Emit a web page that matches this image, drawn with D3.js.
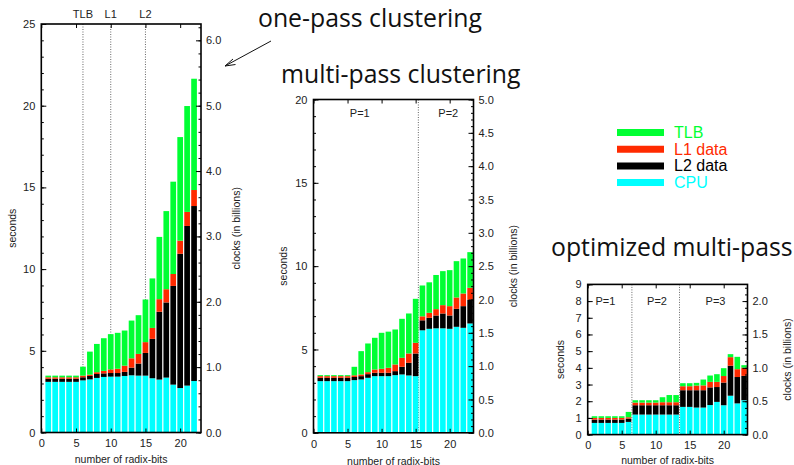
<!DOCTYPE html>
<html><head><meta charset="utf-8">
<script src="https://cdn.jsdelivr.net/npm/d3@7"></script>
<style>body{margin:0;background:#fff}svg{display:block}</style>
</head><body><svg id="c" width="794" height="465"></svg>
<script>
// ---------- DATA ----------
const seriesKeys = ["cpu", "l2", "l1", "tlb"];
const seriesNames = {tlb: "TLB", l1: "L1 data", l2: "L2 data", cpu: "CPU"};
const seriesColors = {cpu: "#00ffff", l2: "#000000", l1: "#ff2a00", tlb: "#00ff33"};
const legendOrder = ["tlb", "l1", "l2", "cpu"];

// one-pass clustering (seconds per component)
const bits1 = [1,2,3,4,5,6,7,8,9,10,11,12,13,14,15,16,17,18,19,20,21,22];
const cpu1 = [3.10,3.10,3.10,3.10,3.10,3.19,3.25,3.34,3.40,3.42,3.42,3.46,3.50,3.48,3.48,3.32,3.24,3.36,2.93,2.72,2.87,3.15];
const l2_1 = [0.19,0.19,0.19,0.19,0.19,0.19,0.21,0.24,0.22,0.22,0.22,0.25,0.47,0.74,1.39,2.41,4.15,4.60,6.04,8.22,9.77,10.71];
const l1_1 = [0.09,0.09,0.09,0.09,0.09,0.10,0.08,0.11,0.15,0.22,0.26,0.38,0.57,0.59,0.66,0.67,0.77,0.81,0.73,0.80,0.86,0.98];
const tlb1 = [0.10,0.10,0.10,0.10,0.10,0.55,1.41,1.73,2.00,2.16,2.20,2.15,2.31,2.37,2.61,3.03,3.81,4.78,5.65,6.34,6.48,6.81];

// multi-pass clustering
const bits2 = [1,2,3,4,5,6,7,8,9,10,11,12,13,14,15,16,17,18,19,20,21,22,23];
const cpu2 = [3.10,3.10,3.10,3.10,3.10,3.16,3.20,3.30,3.40,3.40,3.40,3.46,3.50,3.44,3.40,6.15,6.24,6.27,6.27,6.24,6.36,6.30,6.56];
const l2_2 = [0.20,0.20,0.20,0.20,0.20,0.19,0.20,0.22,0.20,0.20,0.20,0.24,0.46,0.76,1.36,0.60,0.66,0.77,0.89,0.80,1.08,1.30,1.42];
const l1_2 = [0.10,0.10,0.10,0.10,0.10,0.10,0.10,0.12,0.20,0.24,0.30,0.40,0.54,0.56,0.64,0.24,0.30,0.38,0.50,0.56,0.68,0.76,0.72];
const tlb2 = [0.06,0.06,0.06,0.06,0.06,0.51,1.40,1.72,1.90,2.16,2.17,2.10,2.34,2.40,2.64,1.85,1.83,2.05,2.04,2.16,2.18,2.10,2.14];

// optimized multi-pass
const bits3 = [1,2,3,4,5,6,7,8,9,10,11,12,13,14,15,16,17,18,19,20,21,22,23];
const cpu3 = [0.70,0.70,0.70,0.70,0.70,0.76,1.20,1.20,1.20,1.20,1.20,1.20,1.20,1.66,1.66,1.62,1.62,1.77,1.96,1.76,2.33,1.87,2.06];
const l2_3 = [0.20,0.20,0.20,0.20,0.20,0.20,0.56,0.56,0.56,0.56,0.56,0.56,0.56,1.00,1.00,1.04,1.04,1.06,0.89,1.36,1.80,1.58,1.46];
const l1_3 = [0.10,0.10,0.10,0.10,0.10,0.08,0.16,0.16,0.16,0.16,0.18,0.18,0.18,0.24,0.24,0.28,0.29,0.33,0.31,0.39,0.51,0.47,0.49];
const tlb3 = [0.10,0.10,0.10,0.10,0.10,0.32,0.14,0.14,0.14,0.14,0.30,0.43,0.43,0.18,0.18,0.16,0.35,0.38,0.46,0.47,0.18,0.74,0.15];

const xTicks = [0,5,10,15,20];
const yTicks1 = [0,5,10,15,20,25];
const y2Ticks1 = [0,1,2,3,4,5,6];
const yTicks2 = [0,5,10,15,20];
const y2Ticks2 = [0,0.5,1,1.5,2,2.5,3,3.5,4,4.5,5];
const yTicks3 = [0,1,2,3,4,5,6,7,8,9];
const y2Ticks3 = [0,0.5,1,1.5,2];

const markers1 = [{x: 6, label: "TLB"}, {x: 10, label: "L1"}, {x: 15, label: "L2"}];
const dividers2 = [15.4];
const passLabels2 = [{x: 6.8, label: "P=1"}, {x: 19.8, label: "P=2"}];
const dividers3 = [6.5, 13.5];
const passLabels3 = [{x: 2.6, label: "P=1"}, {x: 10.2, label: "P=2"}, {x: 18.8, label: "P=3"}];

const titles = ["one-pass clustering", "multi-pass clustering", "optimized multi-pass"];

// ---------- DRAW ----------
const svg = d3.select("#c");
const FONT = "'Liberation Sans', Arial, sans-serif";

function panel(cfg) {
  const g = svg.append("g");
  const x = d3.scaleLinear().domain([0, cfg.xMax]).range([cfg.left, cfg.right]);
  const y = d3.scaleLinear().domain([0, cfg.yMax]).range([cfg.bottom, cfg.top]);
  const y2 = d3.scaleLinear().domain([0, cfg.y2Max]).range([cfg.bottom, cfg.top]);
  const rows = cfg.bits.map((b, i) => ({bit: b, cpu: cfg.cpu[i], l2: cfg.l2[i], l1: cfg.l1[i], tlb: cfg.tlb[i]}));
  const stacked = d3.stack().keys(seriesKeys)(rows);
  const bw = (x(1) - x(0)) * 0.82;

  // dotted dividers
  g.selectAll("line.div").data(cfg.dividers).join("line")
    .attr("x1", d => x(d)).attr("x2", d => x(d))
    .attr("y1", cfg.top).attr("y2", cfg.bottom)
    .attr("stroke", "#666").attr("stroke-width", 1).attr("stroke-dasharray", "1,1.5");

  // bars
  g.selectAll("g.s").data(stacked).join("g")
    .attr("fill", d => seriesColors[d.key])
    .selectAll("rect").data(d => d).join("rect")
    .attr("x", d => x(d.data.bit) - bw / 2)
    .attr("width", bw)
    .attr("y", d => y(d[1]))
    .attr("height", d => Math.max(0, y(d[0]) - y(d[1])));

  // axes (ticks inward)
  const ax = (axis, tr) => {
    const a = g.append("g").attr("transform", tr).call(axis);
    a.select(".domain").remove();
    a.selectAll("text").attr("font-family", FONT).attr("font-size", 11).attr("fill", "#222");
    a.selectAll("line").attr("stroke", "#000").attr("stroke-width", 1);
    return a;
  };
  ax(d3.axisBottom(x).tickValues(xTicks).tickFormat(d3.format("d")).tickSize(-4).tickPadding(7), `translate(0,${cfg.bottom})`);
  ax(d3.axisTop(x).tickValues(xTicks).tickFormat("").tickSize(-4), `translate(0,${cfg.top})`);
  ax(d3.axisLeft(y).tickValues(cfg.yTicks).tickFormat(d3.format("d")).tickSize(-5).tickPadding(6), `translate(${cfg.left},0)`);
  ax(d3.axisLeft(y).tickValues(d3.range(0, cfg.yMax + 1e-9, cfg.yMinor)).tickFormat("").tickSize(-2.5), `translate(${cfg.left},0)`);
  ax(d3.axisRight(y2).tickValues(cfg.y2Ticks).tickFormat(d3.format(".1f")).tickSize(-5).tickPadding(5), `translate(${cfg.right},0)`);
  ax(d3.axisRight(y2).tickValues(d3.range(0, cfg.y2Max + 1e-9, cfg.y2Minor)).tickFormat("").tickSize(-2.5), `translate(${cfg.right},0)`);

  // frame
  g.append("rect").attr("x", cfg.left).attr("y", cfg.top)
    .attr("width", cfg.right - cfg.left).attr("height", cfg.bottom - cfg.top)
    .attr("fill", "none").attr("stroke", "#000").attr("stroke-width", 1.6);

  // inner labels
  g.selectAll("text.pl").data(cfg.innerLabels).join("text")
    .attr("x", d => x(d.x)).attr("y", cfg.innerY)
    .attr("text-anchor", "middle").attr("dominant-baseline", "central")
    .attr("font-family", FONT).attr("font-size", 11).attr("fill", "#222")
    .text(d => d.label);

  // axis titles
  const cx = (cfg.left + cfg.right) / 2, cy = (cfg.top + cfg.bottom) / 2;
  g.append("text").attr("x", cx).attr("y", cfg.xLabelY)
    .attr("text-anchor", "middle").attr("dominant-baseline", "central")
    .attr("font-family", FONT).attr("font-size", 10.5).attr("fill", "#222")
    .text("number of radix-bits");
  g.append("text").attr("transform", `translate(${cfg.yLabelX},${cy}) rotate(-90)`)
    .attr("text-anchor", "middle").attr("dominant-baseline", "central")
    .attr("font-family", FONT).attr("font-size", 10.5).attr("fill", "#222")
    .text("seconds");
  g.append("text").attr("transform", `translate(${cfg.y2LabelX},${cy}) rotate(-90)`)
    .attr("text-anchor", "middle").attr("dominant-baseline", "central")
    .attr("font-family", FONT).attr("font-size", 10.5).attr("fill", "#222")
    .text("clocks (in billions)");
  return {x, y};
}

// panel 1
const p1 = panel({bits: bits1, cpu: cpu1, l2: l2_1, l1: l1_1, tlb: tlb1,
  left: 41.3, right: 201, top: 24, bottom: 432.5, xMax: 23, yMax: 25, y2Max: 6.25,
  yTicks: yTicks1, yMinor: 1, y2Ticks: y2Ticks1, y2Minor: 0.2,
  dividers: markers1.map(d => d.x), innerLabels: [], innerY: 0,
  xLabelY: 459, yLabelX: 12, y2LabelX: 236});
// top markers for panel 1 (above frame)
svg.append("g").selectAll("text").data(markers1).join("text")
  .attr("x", d => p1.x(d.x)).attr("y", 13.5)
  .attr("text-anchor", "middle").attr("dominant-baseline", "central")
  .attr("font-family", FONT).attr("font-size", 11).attr("fill", "#222")
  .text(d => d.label);

// panel 2
panel({bits: bits2, cpu: cpu2, l2: l2_2, l1: l1_2, tlb: tlb2,
  left: 313.5, right: 473.5, top: 99.5, bottom: 432.8, xMax: 23.5, yMax: 20, y2Max: 5,
  yTicks: yTicks2, yMinor: 1, y2Ticks: y2Ticks2, y2Minor: 0.1,
  dividers: dividers2, innerLabels: passLabels2, innerY: 113,
  xLabelY: 460.5, yLabelX: 283, y2LabelX: 513});

// panel 3
panel({bits: bits3, cpu: cpu3, l2: l2_3, l1: l1_3, tlb: tlb3,
  left: 587.7, right: 747.5, top: 284.4, bottom: 434.6, xMax: 23.5, yMax: 9, y2Max: 2.25,
  yTicks: yTicks3, yMinor: 1, y2Ticks: y2Ticks3, y2Minor: 0.1,
  dividers: dividers3, innerLabels: passLabels3, innerY: 300.7,
  xLabelY: 460, yLabelX: 560, y2LabelX: 787});

// titles
const TFONT = "'Open Sans', 'Noto Sans', sans-serif";
const titlePos = [{x: 258, y: 27}, {x: 281, y: 83}, {x: 551, y: 256}];
svg.append("g").selectAll("text").data(titles).join("text")
  .attr("x", (d, i) => titlePos[i].x).attr("y", (d, i) => titlePos[i].y)
  .attr("font-family", TFONT).attr("font-size", 24.8).attr("fill", "#111")
  .text(d => d);

// arrow
const arrow = svg.append("g").attr("stroke", "#111").attr("stroke-width", 1).attr("fill", "none");
arrow.append("line").attr("x1", 271).attr("y1", 41).attr("x2", 225).attr("y2", 66);
arrow.append("path").attr("d", "M233,59 L225,66 L235.5,64.5");

// legend
const lg = svg.append("g");
legendOrder.forEach((k, i) => {
  const yy = 132.5 + i * 16.7;
  lg.append("line").attr("x1", 617).attr("x2", 664).attr("y1", yy).attr("y2", yy)
    .attr("stroke", seriesColors[k]).attr("stroke-width", 7);
  lg.append("text").attr("x", 674).attr("y", yy).attr("dominant-baseline", "central")
    .attr("font-family", FONT).attr("font-size", 16).attr("fill", seriesColors[k])
    .text(seriesNames[k]);
});
</script>
</body></html>
